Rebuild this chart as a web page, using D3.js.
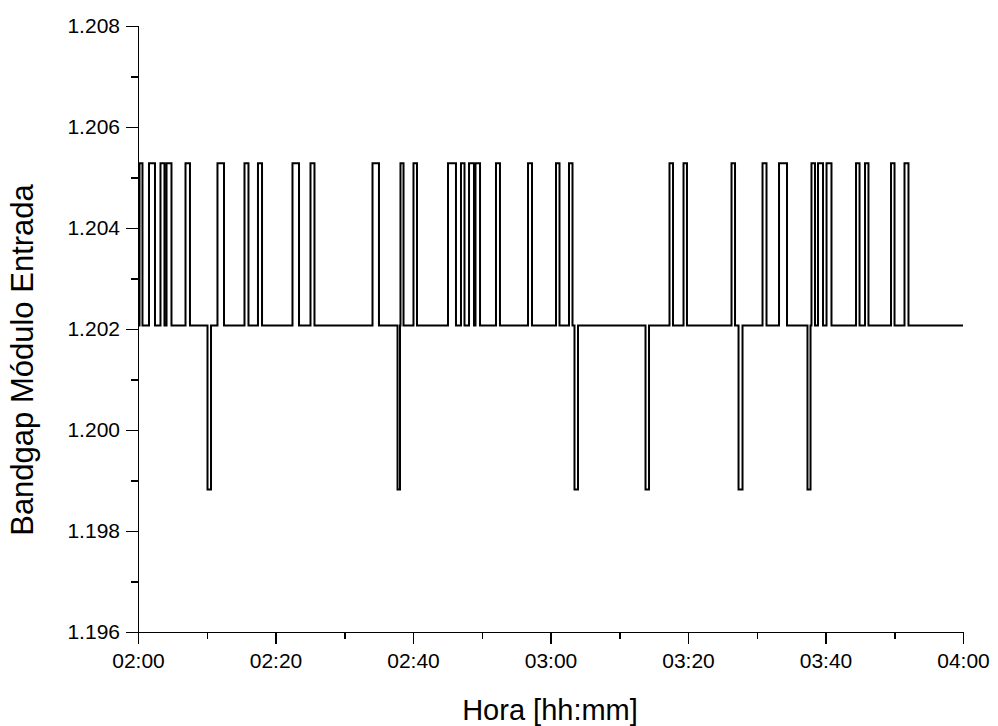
<!DOCTYPE html>
<meta charset="utf-8">
<html lang="pt">
<style>

    body {
        margin: 0;
        background: #fff;
        font-family: "Liberation Sans", Arial, sans-serif;
    }

    .axis path,
    .axis line {
        fill: none;
        stroke: #000;
        stroke-width: 1.5px;
        shape-rendering: crispEdges;
    }

    .axis text {
        font-family: "Liberation Sans", Arial, sans-serif;
        font-size: 21px;
        fill: #000;
    }

    .line {
        fill: none;
        stroke: #000;
        stroke-width: 2px;
    }

</style>

<head>
    <meta charset="UTF-8">
    <script src="https://d3js.org/d3.v7.min.js"></script>
</head>
<body>
<svg width="998" height="726"></svg>
</body>
<script>

    // levels of the signal (V)
    var baseLevel = 1.20207,
        highLevel = 1.20528,
        lowLevel = 1.19882;

    // pulses up to the high level: [start, end] in minutes after 02:00
    var highPulses = [
        [0.22, 0.65], [1.60, 2.47], [3.27, 3.85], [4.15, 4.87], [6.91, 7.56],
        [11.56, 12.51], [15.49, 16.07], [17.45, 18.04], [22.47, 23.42], [25.09, 25.67],
        [34.11, 35.05], [38.18, 38.62], [40.07, 40.58], [45.09, 46.25], [46.98, 47.49],
        [48.15, 48.87], [49.09, 49.75], [52.07, 52.65], [56.73, 57.31], [60.80, 61.31],
        [62.69, 63.20], [77.31, 77.82], [79.35, 79.85], [86.33, 86.84], [90.84, 91.42],
        [93.24, 94.40], [97.96, 98.47], [98.91, 99.64], [100.15, 100.87], [104.44, 104.95],
        [105.75, 106.25], [109.53, 110.04], [111.49, 112.07]
    ];

    // pulses down to the low level
    var lowPulses = [
        [10.11, 10.62], [37.75, 38.11], [63.49, 64.00], [73.82, 74.33],
        [87.35, 87.93], [97.38, 97.82]
    ];

    var xMajorTicks = [0, 20, 40, 60, 80, 100, 120];
    var xMinorTicks = [10, 30, 50, 70, 90, 110];
    var yMajorTicks = [1.196, 1.198, 1.200, 1.202, 1.204, 1.206, 1.208];
    var yMinorTicks = [1.197, 1.199, 1.201, 1.203, 1.205, 1.207];

    var margin = {top: 26, left: 138},
        width = 825,
        height = 606;

    var x = d3.scaleLinear().domain([0, 120]).range([0, width]);
    var y = d3.scaleLinear().domain([1.196, 1.208]).range([height, 0]);

    function hhmm(m) {
        var h = 2 + Math.floor(m / 60), mm = m % 60;
        return d3.format("02d")(h) + ":" + d3.format("02d")(mm);
    }

    var my_svg = d3.select("svg")
        .append("g")
        .attr("transform", "translate(" + margin.left + "," + margin.top + ")");

    // build step series from the pulses
    var pulses = highPulses.map(function (p) { return {s: p[0], e: p[1], v: highLevel}; })
        .concat(lowPulses.map(function (p) { return {s: p[0], e: p[1], v: lowLevel}; }))
        .sort(function (a, b) { return a.s - b.s; });

    var points = [{t: 0, v: baseLevel}];
    pulses.forEach(function (p) {
        points.push({t: p.s, v: p.v});
        points.push({t: p.e, v: baseLevel});
    });
    points.push({t: 120, v: baseLevel});

    var line = d3.line()
        .curve(d3.curveStepAfter)
        .x(function (d) { return x(d.t); })
        .y(function (d) { return y(d.v); });

    my_svg.append("path")
        .datum(points)
        .attr("class", "line")
        .attr("d", line);

    // axes (minor ticks first, then major with labels)
    my_svg.append("g")
        .attr("class", "x axis")
        .attr("transform", "translate(0," + height + ")")
        .call(d3.axisBottom(x).tickValues(xMinorTicks).tickSize(7).tickFormat(""));

    my_svg.append("g")
        .attr("class", "x axis")
        .attr("transform", "translate(0," + height + ")")
        .call(d3.axisBottom(x).tickValues(xMajorTicks).tickSizeInner(12).tickSizeOuter(0)
            .tickPadding(9).tickFormat(hhmm));

    my_svg.append("g")
        .attr("class", "y axis")
        .call(d3.axisLeft(y).tickValues(yMinorTicks).tickSize(7).tickFormat(""));

    my_svg.append("g")
        .attr("class", "y axis")
        .call(d3.axisLeft(y).tickValues(yMajorTicks).tickSizeInner(12).tickSizeOuter(0)
            .tickPadding(6).tickFormat(d3.format(".3f")));

    // axis titles
    my_svg.append("text")
        .attr("x", 550 - margin.left)
        .attr("y", height + 88)
        .style("text-anchor", "middle")
        .style("font-size", "29px")
        .text("Hora [hh:mm]");

    my_svg.append("text")
        .attr("transform", "rotate(-90)")
        .attr("x", -(360 - margin.top))
        .attr("y", -margin.left + 33)
        .style("text-anchor", "middle")
        .style("font-size", "31px")
        .text("Bandgap Módulo Entrada");

</script>

</html>
